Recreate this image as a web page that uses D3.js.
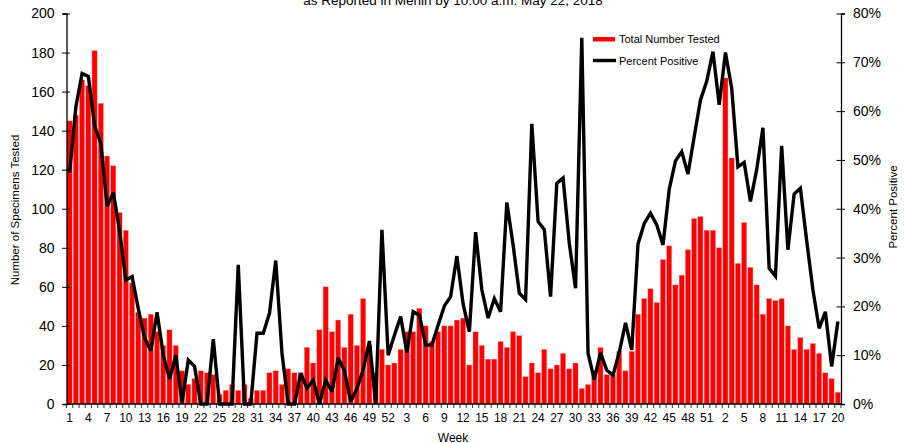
<!DOCTYPE html>
<html>
<head>
<meta charset="utf-8">
<script src="https://cdn.jsdelivr.net/npm/d3@7/dist/d3.min.js"></script>
<style>
  html, body { margin: 0; padding: 0; background: #fff; }
  svg { display: block; font-family: "Liberation Sans", Arial, sans-serif; }
</style>
</head>
<body>
<svg id="chart" width="906" height="443"></svg>
<script>
// Week categories (three seasons: 52 + 52 + 20 weeks)
const weeksYear1 = [1,2,3,4,5,6,7,8,9,10,11,12,13,14,15,16,17,18,19,20,21,22,23,24,25,26,27,28,29,30,31,32,33,34,35,36,37,38,39,40,41,42,43,44,45,46,47,48,49,50,51,52];
const weeksYear2 = [1,2,3,4,5,6,7,8,9,10,11,12,13,14,15,16,17,18,19,20,21,22,23,24,25,26,27,28,29,30,31,32,33,34,35,36,37,38,39,40,41,42,43,44,45,46,47,48,49,50,51,52];
const weeksYear3 = [1,2,3,4,5,6,7,8,9,10,11,12,13,14,15,16,17,18,19,20];
const weeks = weeksYear1.concat(weeksYear2, weeksYear3);

// Total Number Tested (bars)
const totalTested = [
  145,148,166,163,181,154,127,122,98,89,62,47,44,46,37,30,38,30,17,10,
  13,17,16,15,5,7,10,7,10,3,7,7,16,17,10,18,16,16,29,21,
  38,60,37,43,29,46,30,54,30,16,28,20,
  21,28,37,37,49,40,32,37,40,40,43,44,20,37,30,23,23,32,29,37,
  35,14,21,16,28,18,20,26,18,21,8,10,17,29,15,15,27,17,27,46,
  54,59,52,74,81,61,66,79,95,96,89,89,
  80,167,126,72,93,70,61,46,54,53,54,40,28,34,28,31,26,16,13,6
];

// Percent Positive (line, %)
const percentPositive = [
  47.4,60.9,67.7,67.1,57.0,53.4,40.5,43.3,35.5,25.4,26.1,19.5,13.5,10.9,18.8,10.0,5.1,10.0,0.3,9.0,
  7.7,0,0,13.3,0,0,0,28.5,0,0,14.5,14.5,18.6,29.4,10.4,0,0,6.3,3.2,4.9,
  0,4.9,2.5,9.4,6.8,0.5,3.2,7.0,12.9,0,35.7,10.0,
  14.1,17.9,10.5,18.9,18.2,12.1,12.1,16.2,20.1,22.0,30.3,20.5,14.8,35.2,23.4,17.6,21.6,18.9,41.3,32.6,
  22.7,21.4,57.4,37.4,35.7,22.0,45.2,46.3,32.9,23.7,75.0,10.4,5.0,10.5,6.9,5.9,10.6,16.6,11.1,32.8,
  37.0,39.1,36.7,32.6,44.0,49.8,51.7,47.1,54.8,62.3,66.1,72.2,
  61.3,72.0,64.7,48.6,49.5,41.5,48.0,56.6,27.8,26.2,52.9,31.6,43.0,44.2,33.5,23.4,15.5,18.9,7.7,16.9
];

const leftTicks = [0,20,40,60,80,100,120,140,160,180,200];
const rightTicks = [0,10,20,30,40,50,60,70,80];
const titleText = "as Reported in Menin by 10:00 a.m. May 22, 2018";
const legendLabels = ["Total Number Tested", "Percent Positive"];

const svg = d3.select("#chart");
const L = 66.5, R = 841, T = 13.5, B = 404;

const x = d3.scaleBand().domain(d3.range(weeks.length)).range([L, R]).padding(0);
const yL = d3.scaleLinear().domain([0, 200]).range([B, T]);
const yR = d3.scaleLinear().domain([0, 80]).range([B, T]);

// Title (cut off at top)
svg.append("text").attr("x", 453).attr("y", 4.5).attr("text-anchor", "middle")
  .attr("font-size", 13.5).attr("fill", "#000").text(titleText);

// Bars
svg.append("g").selectAll("rect").data(totalTested).join("rect")
  .attr("x", (d, i) => x(i) + 0.5)
  .attr("width", x.bandwidth() - 1.1)
  .attr("y", d => yL(d))
  .attr("height", d => B - yL(d))
  .attr("fill", "#ff0000")
  .attr("stroke", "#ff9a9a")
  .attr("stroke-width", 0.4);

// Line
const line = d3.line()
  .x((d, i) => x(i) + x.bandwidth() / 2)
  .y(d => yR(d));
svg.append("path").datum(percentPositive)
  .attr("d", line).attr("fill", "none").attr("stroke", "#000")
  .attr("stroke-width", 3.4).attr("stroke-linejoin", "miter").attr("stroke-miterlimit", 3);

// Left axis
const gL = svg.append("g").attr("transform", `translate(${L},0)`)
  .call(d3.axisLeft(yL).tickValues(leftTicks).tickSize(4).tickPadding(8));
gL.select(".domain").attr("stroke", "#000").attr("stroke-width", 1.3);
gL.selectAll(".tick line").attr("x2", -4.5).attr("x1", 3.5).attr("stroke", "#000");
gL.selectAll(".tick text").attr("font-size", 14).attr("font-family", "Liberation Sans, Arial, sans-serif").attr("fill", "#000");

// Right axis
const gR = svg.append("g").attr("transform", `translate(${R},0)`)
  .call(d3.axisRight(yR).tickValues(rightTicks).tickFormat(d => d + "%").tickSize(4).tickPadding(8));
gR.select(".domain").attr("stroke", "#000").attr("stroke-width", 1.3);
gR.selectAll(".tick line").attr("x1", -4.5).attr("x2", 4).attr("stroke", "#000");
gR.selectAll(".tick text").attr("font-size", 14).attr("font-family", "Liberation Sans, Arial, sans-serif").attr("fill", "#000");

// Bottom axis line
svg.append("line").attr("x1", L).attr("x2", R).attr("y1", B).attr("y2", B)
  .attr("stroke", "#000").attr("stroke-width", 1.5);

// Bottom small ticks at every bar boundary
const boundaries = d3.range(weeks.length + 1).map(i => i < weeks.length ? x(i) : R);
svg.append("g").selectAll("line").data(boundaries).join("line")
  .attr("x1", d => d).attr("x2", d => d).attr("y1", B).attr("y2", B + 4)
  .attr("stroke", "#000").attr("stroke-width", 0.8);

// Bottom labels every 3rd week
svg.append("g").selectAll("text").data(weeks.map((w, i) => ({w, i})).filter(d => d.i % 3 === 0)).join("text")
  .attr("x", d => x(d.i) + x.bandwidth() / 2)
  .attr("y", 422)
  .attr("text-anchor", "middle")
  .attr("font-size", 12)
  .attr("fill", "#000")
  .text(d => d.w);

// Axis titles
svg.append("text").attr("x", 453).attr("y", 441.5).attr("text-anchor", "middle")
  .attr("font-size", 12).text("Week");
svg.append("text").attr("transform", "translate(19,210) rotate(-90)").attr("text-anchor", "middle")
  .attr("font-size", 11.5).text("Number of Specimens Tested");
svg.append("text").attr("transform", "translate(897,207) rotate(-90)").attr("text-anchor", "middle")
  .attr("font-size", 11.5).text("Percent Positive");

// Legend
svg.append("rect").attr("x", 593).attr("y", 37).attr("width", 22).attr("height", 4.5).attr("fill", "#ff0000");
svg.append("text").attr("x", 619).attr("y", 43).attr("font-size", 11).text(legendLabels[0]);
svg.append("line").attr("x1", 593).attr("x2", 616).attr("y1", 60.5).attr("y2", 60.5)
  .attr("stroke", "#000").attr("stroke-width", 3.4);
svg.append("text").attr("x", 619).attr("y", 64.5).attr("font-size", 11).text(legendLabels[1]);
</script>
</body>
</html>
